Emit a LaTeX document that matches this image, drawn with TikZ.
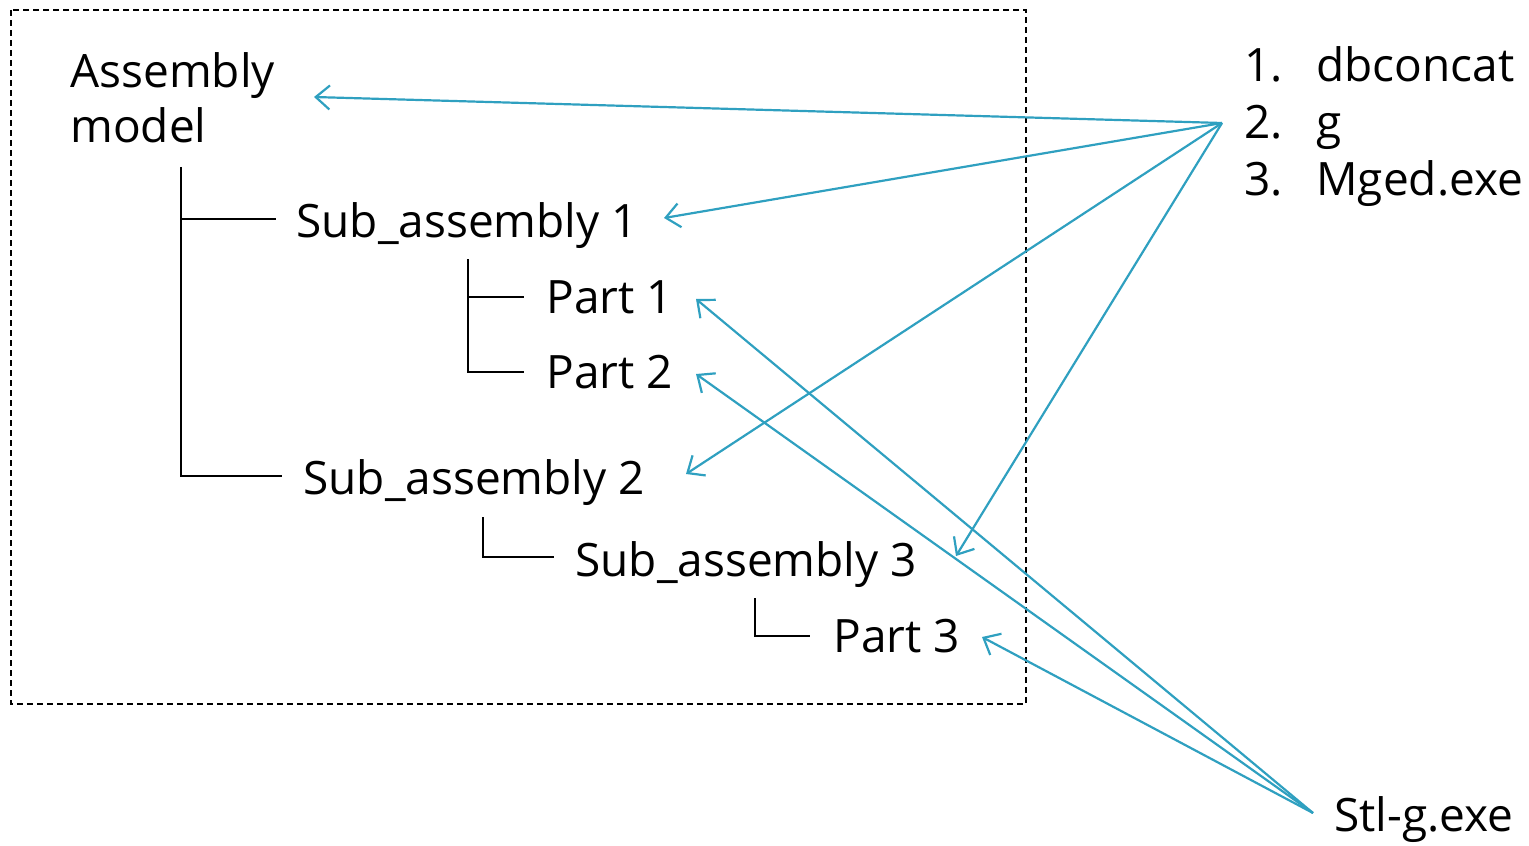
\documentclass[tikz,border=0pt]{standalone}
\usepackage{fontspec}
\setmainfont{Open Sans}
\usetikzlibrary{arrows.meta}
\definecolor{arrowc}{RGB}{47,160,192}
\tikzset{
  lbl/.style={anchor=base west,inner sep=0pt,font=\fontsize{23}{28}\selectfont},
  treeline/.style={draw=black,line width=1.1pt},
  ref/.style={draw=arrowc,line width=1.1pt,-{Straight Barb[length=7pt,width=12pt,line width=1.1pt]}},
  frame/.style={draw=black,line width=0.75pt,dash pattern=on 3pt off 2pt}
}
\begin{document}
\begin{tikzpicture}[x=0.5pt,y=-0.5pt]
\useasboundingbox (0,0) rectangle (1529,845);
\draw[frame] (11,10) rectangle (1026,704);
% labels
\node[lbl] (asm1) at (70,88) {Assembly};
\node[lbl] (asm2) at (70,143) {model};
\node[lbl] (sa1) at (296,237) {Sub\_assembly 1};
\node[lbl] (p1) at (546,313) {Part 1};
\node[lbl] (p2) at (546,388) {Part 2};
\node[lbl] (sa2) at (303,494) {Sub\_assembly 2};
\node[lbl] (sa3) at (575,576) {Sub\_assembly 3};
\node[lbl] (p3) at (833,652) {Part 3};
\node[lbl] (n1) at (1244,82) {1.};
\node[lbl] (l1) at (1316,82) {dbconcat};
\node[lbl] (n2) at (1244,139) {2.};
\node[lbl] (l2) at (1316,139) {g};
\node[lbl] (n3) at (1244,196) {3.};
\node[lbl] (l3) at (1316,196) {Mged.exe};
\node[lbl] (stl) at (1334,831) {Stl-g.exe};
% tree
\coordinate (t0) at (181,167);
\coordinate (t1) at (181,476);
\coordinate (h1) at (276,219);
\coordinate (h2) at (282,476);
\draw[treeline] (t0) -- (t1) -- (h2);
\draw[treeline] (181,219) -- (h1);
\coordinate (u0) at (468,259);
\coordinate (u1) at (468,372);
\draw[treeline] (u0) -- (u1) -- (524,372);
\draw[treeline] (468,297) -- (524,297);
\coordinate (v0) at (483,517);
\draw[treeline] (v0) -- (483,557) -- (554,557);
\coordinate (w0) at (755,598);
\draw[treeline] (w0) -- (755,636) -- (810,636);
% arrows
\coordinate (src) at (1222,123);
\coordinate (src2) at (1313,813);
\coordinate (a-asm) at (314,97);
\coordinate (a-sa1) at (664,218);
\coordinate (a-sa2) at (686,474);
\coordinate (a-sa3) at (956,556);
\coordinate (a-p1) at (696,299);
\coordinate (a-p2) at (696,374);
\coordinate (a-p3) at (982,637);
\draw[ref] (src) -- (a-asm);
\draw[ref] (src) -- (a-sa1);
\draw[ref] (src) -- (a-sa2);
\draw[ref] (src) -- (a-sa3);
\draw[ref] (src2) -- (a-p1);
\draw[ref] (src2) -- (a-p2);
\draw[ref] (src2) -- (a-p3);
\end{tikzpicture}
\end{document}
